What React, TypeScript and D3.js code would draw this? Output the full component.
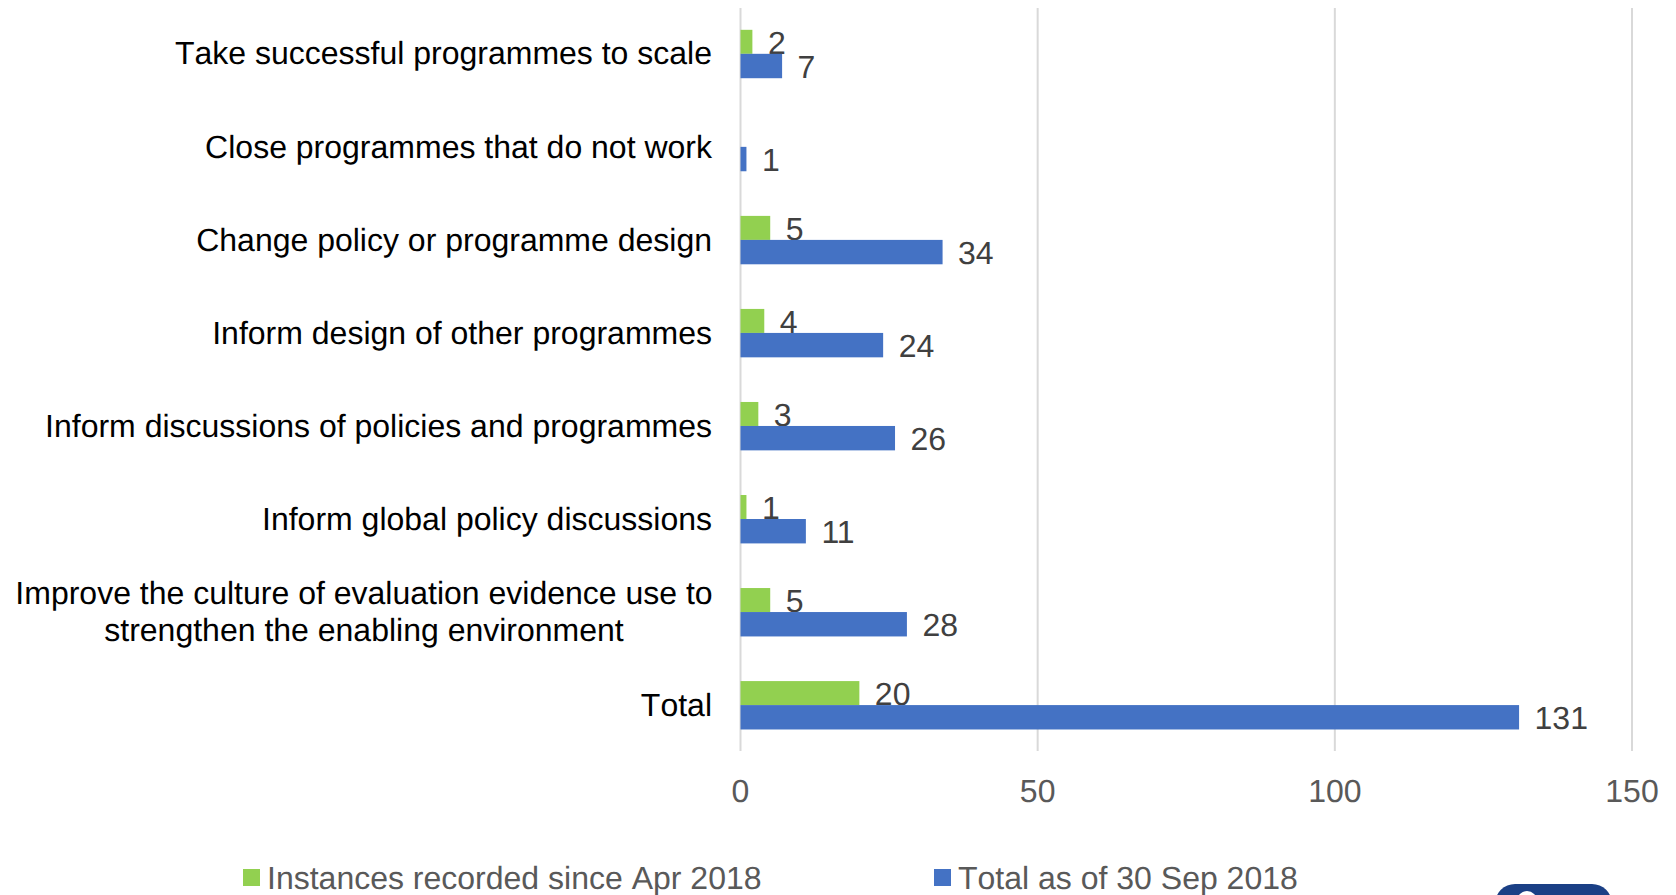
import React from "react";
import * as d3 from "d3";

const categories = [
  ["Take successful programmes to scale"],
  ["Close programmes that do not work"],
  ["Change policy or programme design"],
  ["Inform design of other programmes"],
  ["Inform discussions of policies and programmes"],
  ["Inform global policy discussions"],
  ["Improve the culture of evaluation evidence use to", "strengthen the enabling environment"],
  ["Total"],
];
const instancesSinceApr = [2, 0, 5, 4, 3, 1, 5, 20];
const totalAsOfSep = [7, 1, 34, 24, 26, 11, 28, 131];
const xTicks = [0, 50, 100, 150];
const seriesNames = ["Instances recorded since Apr 2018", "Total as of 30 Sep 2018"];

const WIDTH = 1676;
const HEIGHT = 895;
const FONT = "'Liberation Sans', Arial, sans-serif";
const GREEN = "#92d050";
const BLUE = "#4472c4";
const FONT_SIZE = 32;

const x = d3.scaleLinear().domain([0, 150]).range([740.5, 1632]);
const y = d3.scaleBand<number>().domain(d3.range(categories.length)).range([7.3, 751.6]);
const greenH = 24;
const blueH = 24.4;

export default function App() {
  return (
    <svg
      width={WIDTH}
      height={HEIGHT}
      viewBox={`0 0 ${WIDTH} ${HEIGHT}`}
      style={{ position: "fixed", left: 0, top: 0, background: "#fff", fontFamily: FONT, textRendering: "geometricPrecision", fontKerning: "none" }}
    >
      {xTicks.map((t) => (
        <g key={t}>
          <line x1={x(t)} x2={x(t)} y1={8} y2={751} stroke="#d9d9d9" strokeWidth={2} />
          <text x={x(t)} y={802} fontSize={FONT_SIZE} fill="#595959" textAnchor="middle">{t}</text>
        </g>
      ))}

      {categories.map((lines, i) => {
        const cy = y(i)! + y.bandwidth() / 2;
        return (
          <g key={i}>
            {lines.length === 1 ? (
              <text x={712} y={cy + (i === 0 ? 10 : 11)} fontSize={FONT_SIZE} fill="#000" textAnchor="end">{lines[0]}</text>
            ) : (
              lines.map((l, j) => (
                <text key={j} x={364} y={cy + (j === 0 ? -8 : 29)} fontSize={FONT_SIZE} fill="#000" textAnchor="middle">{l}</text>
              ))
            )}
            {instancesSinceApr[i] > 0 && (
              <>
                <rect x={x(0)} y={cy - greenH} width={x(instancesSinceApr[i]) - x(0)} height={greenH} fill={GREEN} />
                <text x={x(instancesSinceApr[i]) + 15.5} y={cy} fontSize={FONT_SIZE} fill="#404040" style={{ fontKerning: "normal" }}>{instancesSinceApr[i]}</text>
              </>
            )}
            <rect x={x(0)} y={cy} width={x(totalAsOfSep[i]) - x(0)} height={blueH} fill={BLUE} />
            <text x={x(totalAsOfSep[i]) + 15.5} y={cy + 24} fontSize={FONT_SIZE} fill="#404040" style={{ fontKerning: "normal" }}>{totalAsOfSep[i]}</text>
          </g>
        );
      })}

      <rect x={243} y={869} width={17} height={17} fill={GREEN} />
      <text x={267} y={889} fontSize={FONT_SIZE} fill="#595959">{seriesNames[0]}</text>
      <rect x={934} y={869} width={17} height={17} fill={BLUE} />
      <text x={958} y={889} fontSize={FONT_SIZE} fill="#595959">{seriesNames[1]}</text>

      <rect x={1495} y={884} width={117} height={40} rx={20} fill="#1a3f85" />
      <circle cx={1527} cy={901} r={10} fill="#fff" />
    </svg>
  );
}
